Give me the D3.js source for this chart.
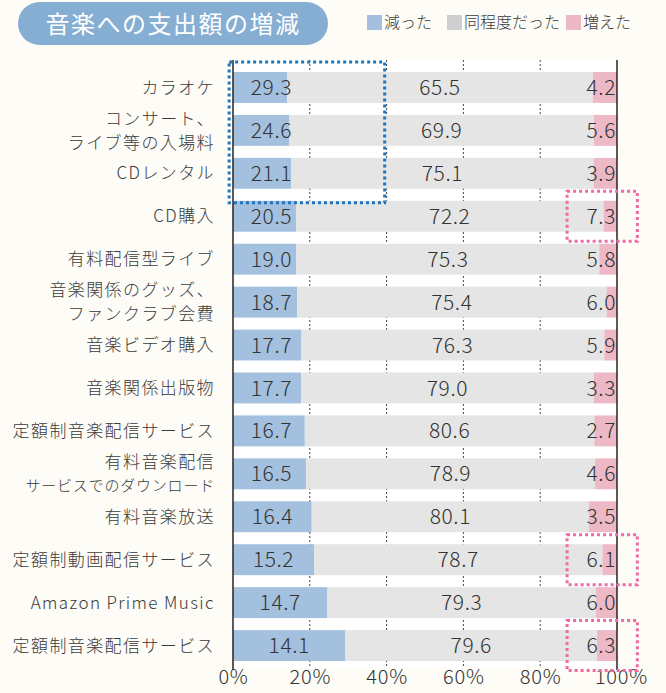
<!DOCTYPE html>
<html>
<head>
<meta charset="utf-8">
<script src="https://cdn.jsdelivr.net/npm/d3@7"></script>
<style>
  html, body { margin: 0; padding: 0; background: #fdfcf7; }
  svg { display: block; font-family: "Noto Sans CJK JP", "Noto Sans", sans-serif; font-weight: 300; }
</style>
</head>
<body>
<svg id="chart" width="666" height="693"></svg>
<script>
var categories = [
  "カラオケ",
  "コンサート、\nライブ等の入場料",
  "CDレンタル",
  "CD購入",
  "有料配信型ライブ",
  "音楽関係のグッズ、\nファンクラブ会費",
  "音楽ビデオ購入",
  "音楽関係出版物",
  "定額制音楽配信サービス",
  "有料音楽配信\nサービスでのダウンロード",
  "有料音楽放送",
  "定額制動画配信サービス",
  "Amazon Prime Music",
  "定額制音楽配信サービス"
];
var decreased = [29.3, 24.6, 21.1, 20.5, 19.0, 18.7, 17.7, 17.7, 16.7, 16.5, 16.4, 15.2, 14.7, 14.1];
var same      = [65.5, 69.9, 75.1, 72.2, 75.3, 75.4, 76.3, 79.0, 80.6, 78.9, 80.1, 78.7, 79.3, 79.6];
var increased = [ 4.2,  5.6,  3.9,  7.3,  5.8,  6.0,  5.9,  3.3,  2.7,  4.6,  3.5,  6.1,  6.0,  6.3];
var tickValues = [0, 20, 40, 60, 80, 100];
var legendNames = ["減った", "同程度だった", "増えた"];
var boxedDecreased = [0, 1, 2];
var boxedIncreased = [3, 11, 13];
var chartTitle = "音楽への支出額の増減";

var colors = { dec: "#a3c0de", same: "#e5e5e5", inc: "#edb9c7" };

var svg = d3.select("#chart");
var n = categories.length;

var x = d3.scaleLinear().domain([0, 100]).range([233, 617]);
var y = d3.scaleBand().domain(d3.range(n)).range([66, 667])
  .paddingInner(0.28).paddingOuter(0.14);

// the printed chart draws its bars in the opposite order to its labels,
// so bar i takes its lengths from row n-1-i
function src(i) { return n - 1 - i; }

// title pill
svg.append("rect")
  .attr("x", 18).attr("y", 2).attr("width", 310).attr("height", 43)
  .attr("rx", 21.5).attr("fill", "#86aed3");
svg.append("text")
  .attr("x", 173).attr("y", 24).attr("dy", "0.36em")
  .attr("text-anchor", "middle").attr("fill", "#fff")
  .attr("font-size", 24).attr("font-weight", 400).attr("letter-spacing", 1.5)
  .text(chartTitle);

// legend
var legendX = [367, 447, 566];
var legendColors = [colors.dec, "#cfcfd1", colors.inc];
var lg = svg.append("g").selectAll("g").data(legendNames).enter().append("g")
  .attr("transform", function(d, i) { return "translate(" + legendX[i] + ",15)"; });
lg.append("rect").attr("width", 15).attr("height", 15)
  .attr("fill", function(d, i) { return legendColors[i]; });
lg.append("text").attr("x", 17).attr("y", 7.5).attr("dy", "0.36em")
  .attr("font-size", 16).attr("fill", "#3a3a3a").text(function(d) { return d; });

// plot background
svg.append("rect")
  .attr("x", x(0)).attr("y", 60).attr("width", x(100) - x(0)).attr("height", 607)
  .attr("fill", "#fff");

// dotted grid lines (only visible between bars)
svg.append("g").selectAll("line").data([20, 40, 60, 80]).enter().append("line")
  .attr("x1", function(d) { return x(d); }).attr("x2", function(d) { return x(d); })
  .attr("y1", 60).attr("y2", 667)
  .attr("stroke", "#444").attr("stroke-width", 1).attr("stroke-dasharray", "2,2");

// bars
var rows = svg.append("g").selectAll("g").data(d3.range(n)).enter().append("g");

rows.append("rect")
  .attr("x", x(0))
  .attr("y", function(i) { return y(i); })
  .attr("height", y.bandwidth())
  .attr("width", function(i) { return x(decreased[src(i)]) - x(0); })
  .attr("fill", colors.dec);

rows.append("rect")
  .attr("x", function(i) { return x(decreased[src(i)]); })
  .attr("y", function(i) { return y(i); })
  .attr("height", y.bandwidth())
  .attr("width", function(i) { return x(same[src(i)]) - x(0); })
  .attr("fill", colors.same);

rows.append("rect")
  .attr("x", function(i) { var j = src(i); return x(decreased[j] + same[j]); })
  .attr("y", function(i) { return y(i); })
  .attr("height", y.bandwidth())
  .attr("width", function(i) { var j = src(i); return x(100) - x(decreased[j] + same[j]); })
  .attr("fill", colors.inc);

// value labels
function valueText(sel) {
  return sel.attr("y", function(i) { return y(i) + y.bandwidth() / 2; })
    .attr("dy", "0.36em").attr("font-size", 21).attr("fill", "#333")
    .attr("letter-spacing", 0.6);
}
valueText(rows.append("text"))
  .attr("text-anchor", "middle")
  .attr("x", function(i) { return Math.max(x(decreased[src(i)] / 2), x(10)); })
  .text(function(i) { return decreased[i].toFixed(1); });
valueText(rows.append("text"))
  .attr("text-anchor", "middle")
  .attr("x", function(i) { var j = src(i); return x(decreased[j] + same[j] / 2); })
  .text(function(i) { return same[i].toFixed(1); });
valueText(rows.append("text"))
  .attr("text-anchor", "end")
  .attr("x", x(100) - 1)
  .text(function(i) { return increased[i].toFixed(1); });

// category labels
rows.each(function(i) {
  var lines = categories[i].split("\n");
  var g = d3.select(this);
  lines.forEach(function(line, k) {
    var offset = (k - (lines.length - 1) / 2) * 24;
    var small = line.length > 10 && lines.length > 1;
    g.append("text")
      .attr("x", 215).attr("y", y(i) + y.bandwidth() / 2 + offset)
      .attr("dy", "0.36em").attr("text-anchor", "end")
      .attr("font-size", small ? 15 : 17)
      .attr("letter-spacing", small ? 0.8 : 1.4)
      .attr("fill", "#3a3a3a")
      .text(line);
  });
});

// axis lines at 0% and 100%
svg.append("g").selectAll("line").data([0, 100]).enter().append("line")
  .attr("x1", function(d) { return x(d); }).attr("x2", function(d) { return x(d); })
  .attr("y1", 60).attr("y2", 670)
  .attr("stroke", "#2a2222").attr("stroke-width", 1.5);

// tick labels
var xAxis = d3.axisBottom(x).tickValues(tickValues).tickSize(0)
  .tickFormat(function(d) { return d + "%"; });
var ax = svg.append("g").attr("transform", "translate(0,671)").call(xAxis);
ax.select(".domain").remove();
ax.selectAll("text")
  .attr("font-size", 20).attr("fill", "#333").attr("letter-spacing", 0.8)
  .attr("font-family", "\"Noto Sans CJK JP\", \"Noto Sans\", sans-serif")
  .attr("font-weight", 300)
  .attr("dx", function(d) { return d === 100 ? 4 : 0; })
  .attr("dy", "0.5em");

// dotted highlight boxes
var box = svg.append("g").attr("fill", "none").attr("stroke-width", 3)
  .attr("stroke-dasharray", "3,3");
box.append("rect")
  .attr("x", x(-1)).attr("width", x(39.5) - x(-1))
  .attr("y", y(boxedDecreased[0]) - 10)
  .attr("height", y(boxedDecreased[boxedDecreased.length - 1]) + y.bandwidth() + 14 - (y(boxedDecreased[0]) - 10))
  .attr("stroke", "#1f74bd");
box.selectAll("rect.inc").data(boxedIncreased).enter().append("rect")
  .attr("class", "inc")
  .attr("x", x(87)).attr("width", x(105.3) - x(87))
  .attr("y", function(i) { return y(i) + y.bandwidth() / 2 - 25; })
  .attr("height", 50)
  .attr("stroke", "#ec6ba6");
</script>
</body>
</html>
